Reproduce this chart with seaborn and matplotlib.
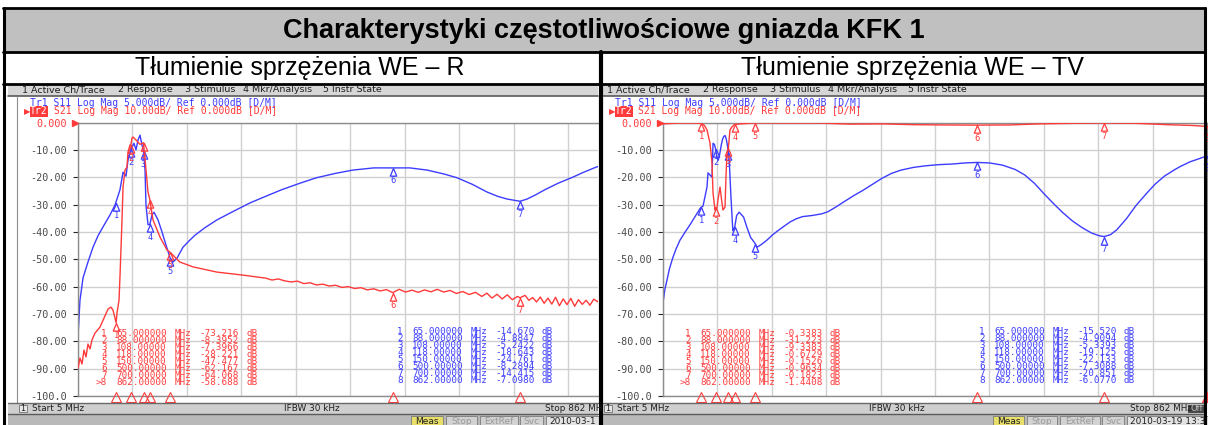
import matplotlib
matplotlib.use("Agg")
import matplotlib.pyplot as plt
import matplotlib.ticker as mticker
from matplotlib.patches import Rectangle
from matplotlib.lines import Line2D
from matplotlib.path import Path
import numpy as np
import pandas as pd
import seaborn as sns

# ---- values (MHz, dB) ----
# WE - R : S11 (blue, 5 dB/div), S21 (red, 10 dB/div)
r_s11_f = [5, 6.6, 8.1, 12.9, 20.7, 28.6, 36.5, 44.3, 55.3, 63.2,
           71, 75.8, 80.5, 83.6, 88.3, 93, 96.2, 99.4, 102.5, 105.6,
           108, 110.4, 111.9, 115.1, 118, 121.4, 124.5, 130.8, 137.1, 143.4,
           150, 154.4, 160.7, 170.1, 180, 189, 205, 223.6, 250, 275.5,
           300, 325, 354, 380, 410, 437, 470, 500, 527, 554,
           580, 601, 625, 648, 665, 680, 700, 711, 725, 739,
           760, 783, 800, 821, 840, 862]
r_s11_db = [-39.0, -35.7, -32.5, -28.4, -25.5, -22.8, -20.7, -19.1, -16.9, -15.1,
            -12.3, -9.1, -9.8, -6.9, -4.9, -3.8, -5.0, -3.2, -2.3, -4.1,
            -5.2, -8.7, -15.1, -18.7, -18.6, -16.9, -16.4, -17.8, -20.0, -22.4,
            -24.8, -25.5, -24.8, -22.8, -21.6, -20.6, -19.2, -17.8, -16.2, -14.7,
            -13.5, -12.3, -11.1, -10.1, -9.3, -8.7, -8.3, -8.3, -8.3, -8.7,
            -9.4, -10.1, -11.3, -12.7, -13.5, -14.0, -14.4, -14.0, -13.2, -12.3,
            -11.1, -10.0, -9.1, -8.1, -7.6, -7.1]

r_s21_f = [5, 8.1, 11.3, 14.4, 17.6, 20.7, 23.9, 27, 31.7, 39.6,
           45.9, 52.2, 56.9, 60, 65, 66.3, 69.5, 71, 74.2, 75.8,
           78.9, 82, 83.6, 86.8, 88, 89.9, 91.5, 96.2, 102.5, 108,
           112, 115, 118, 122.9, 134, 145, 150, 165, 186, 223.6,
           264.5, 300,
           310, 320, 330, 340, 350, 360, 370, 380, 390, 400,
           410, 420, 430, 440, 450, 460, 470, 480, 490, 500,
           510, 520, 530, 540, 550, 560, 570, 580, 590, 600,
           610, 620, 630, 640, 648, 656, 664, 672, 680, 688,
           696, 700, 708, 714, 720, 726, 732, 738, 744, 750,
           756, 762, 768, 774, 780, 786, 792, 798, 804, 810,
           816, 822, 830, 840, 850, 862]
r_s21_db = [-89.9, -86.1, -88.3, -83.2, -85.7, -81.0, -82.8, -79.5, -77.0, -74.8,
            -71.5, -68.2, -67.5, -68.6, -73.2, -69.7, -64.9, -56.5, -35.6, -23.6,
            -17.4, -16.3, -10.8, -8.2, -8.4, -5.7, -5.3, -6.4, -8.0, -7.4,
            -17.4, -25.4, -28.2, -35.6, -41.9, -46.6, -47.5, -51.0, -52.8, -54.7,
            -55.8, -56.9,
            -57.6, -57.2, -57.9, -58.3, -58.0, -58.9, -58.6, -59.4, -59.1, -59.8,
            -59.5, -60.3, -60.0, -60.7, -60.4, -61.2, -60.8, -61.6, -61.1, -62.2,
            -61.0, -62.0, -61.3, -62.1, -61.2, -61.9, -61.0, -62.0, -61.4, -62.5,
            -61.8, -62.9, -62.1, -63.6, -62.4, -64.2, -62.8, -64.5, -63.0, -64.8,
            -63.6, -64.1, -63.2, -65.0, -64.0, -65.6, -63.8, -66.1, -64.2, -66.4,
            -63.9, -67.0, -64.5, -66.6, -64.3, -67.2, -64.8, -66.5, -65.0, -66.8,
            -64.6, -65.5, -63.5, -61.0, -59.5, -58.7]

# WE - TV
tv_s11_f = [5, 8, 11.3, 15, 20.8, 26, 31.8, 40, 47.5, 55,
            63, 65, 68, 74.3, 75.9, 79, 82.2, 83.8, 86, 88,
            90, 92, 94, 97, 99, 101, 103, 105, 108, 110,
            112, 115, 118, 121, 125, 132, 137, 143, 150, 153,
            160, 168.8, 177, 184.6, 194, 205, 215, 225, 240, 255,
            265, 278, 290, 305, 320, 335, 350, 365, 380, 400,
            420, 440, 460, 480, 500, 520, 540, 560, 575, 590,
            605, 620, 635, 650, 665, 680, 692, 700, 710, 720,
            735, 750, 765, 772, 780, 795, 810, 819, 835, 850,
            862]
tv_s11_db = [-33.0, -30.5, -28.8, -26.8, -24.6, -23.0, -21.5, -20.0, -18.7, -17.3,
             -15.8, -15.5, -15.3, -11.8, -9.2, -9.6, -10.0, -3.8, -4.0, -4.9,
             -6.5, -6.9, -6.0, -4.0, -3.0, -2.5, -2.4, -3.2, -5.3, -8.5,
             -13.5, -19.8, -19.1, -17.0, -16.4, -17.3, -19.1, -21.0, -22.1, -22.8,
             -22.3, -21.5, -20.6, -19.9, -19.1, -18.2, -17.6, -17.2, -17.0, -16.7,
             -16.3, -15.4, -14.5, -13.4, -12.4, -11.3, -10.2, -9.3, -8.7, -8.2,
             -7.9, -7.7, -7.6, -7.4, -7.3, -7.4, -7.8, -8.6, -9.6, -11.1,
             -13.0, -14.8, -16.5, -18.0, -19.2, -20.2, -20.7, -20.85, -20.5, -19.6,
             -17.6, -15.2, -13.2, -12.3, -11.3, -9.8, -8.7, -8.1, -7.2, -6.6,
             -6.1]

tv_s21_f = [5, 31.8, 55.4, 65, 70, 74.3, 79, 82.2, 83.8, 86.9,
            88, 90, 91.6, 94.8, 97.9, 99.5, 102.7, 104.2, 105.8, 108,
            110.5, 113.7, 118, 150, 200, 250, 300, 350, 400, 450,
            500, 550, 600, 650, 700, 750, 800, 840, 862]
tv_s21_db = [-0.5, -0.2, -0.2, -0.34, -1.0, -2.7, -7.5, -14.8, -25.8, -32.0,
             -31.2, -31.3, -28.3, -23.6, -29.4, -32.0, -30.9, -19.9, -11.2, -9.3,
             -2.7, -1.6, -0.67, -0.15, -0.2, -0.2, -0.6, -0.5, -0.8, -0.9,
             -0.96, -0.9, -0.5, -0.3, -0.18, -0.3, -0.8, -1.1, -1.44]

# marker readouts
marker_f = [65, 88, 108, 118, 150, 500, 700, 862]
r_s21_mk = [-73.216, -8.3952, -7.3966, -28.221, -47.477, -62.167, -64.068, -58.688]
r_s11_mk = [-14.670, -4.8847, -5.2422, -18.643, -24.761, -8.2894, -14.415, -7.0980]
tv_s21_mk = [-0.3383, -31.223, -9.3383, -0.6729, -0.1526, -0.9634, -0.1823, -1.4408]
tv_s11_mk = [-15.520, -4.9094, -5.3393, -19.125, -22.133, -7.3088, -20.851, -6.0770]

title = "Charakterystyki częstotliwościowe gniazda KFK 1"
subtitles = ["Tłumienie sprzężenia WE – R", "Tłumienie sprzężenia WE – TV"]
menu_items = ["1 Active Ch/Trace", "2 Response", "3 Stimulus", "4 Mkr/Analysis", "5 Instr State"]

# ---- style ----
W, H = 1208, 425
RED = "#ff3a3a"
BLUE = "#3c3cff"
GRID = "#d0d0d0"
MONO = "DejaVu Sans Mono"

sns.set_style("white")
plt.rcParams["font.family"] = ["DejaVu Sans"]

fig = plt.figure(figsize=(W / 100, H / 100), dpi=100)
fig.patch.set_facecolor("white")


def rect(x0, y0, x1, y1, **kw):
    fig.add_artist(Rectangle((x0 / W, 1 - y1 / H), (x1 - x0) / W, (y1 - y0) / H,
                             transform=fig.transFigure, **kw))


def line(xs, ys, **kw):
    fig.add_artist(Line2D([x / W for x in xs], [1 - y / H for y in ys],
                          transform=fig.transFigure, **kw))


def txt(x, y, s, **kw):
    kw.setdefault("va", "center")
    fig.text(x / W, 1 - y / H, s, **kw)


def fmt_db(v):
    return f"{v:.3f}" if abs(v) >= 10 else f"{v:.4f}"


def fmt_f(f):
    return f"{f:.6f}" if f < 100 else f"{f:.5f}"


# marker: open triangle with its tip on the data point
TRI = Path([(0, 0), (-0.42, -1), (0.42, -1), (0, 0)],
           [Path.MOVETO, Path.LINETO, Path.LINETO, Path.CLOSEPOLY])


def draw_markers(ax, f, db, color, xmax):
    pts = [(x, y) for x, y in zip(f, db) if x <= xmax]
    ax.plot([p[0] for p in pts], [p[1] for p in pts], ls="none", marker=TRI, ms=11,
            mfc="none", mec=color, mew=0.9, zorder=6, clip_on=False)
    for i, (x, y) in enumerate(pts):
        ax.annotate(str(i + 1), (x, y), xytext=(0, -6.2), textcoords="offset points",
                    ha="center", va="top", color=color, fontsize=6.3, family=MONO)


def readout(x_num, y0, nums, vals, color):
    # columns: number | frequency | MHz | value | dB
    for i in range(8):
        y = y0 + i * 7.14
        kw = dict(family=MONO, fontsize=6.7, color=color)
        txt(x_num, y, nums[i], ha="right", **kw)
        txt(x_num + 9, y, fmt_f(marker_f[i]), **kw)
        txt(x_num + 68, y, "MHz", **kw)
        txt(x_num + 92, y, fmt_db(vals[i]), **kw)
        txt(x_num + 139, y, "dB", **kw)


def draw_panel(dx, px0, px1, ax_x0, ax_x1, xmax, s11_f, s11_db, s21_f, s21_db,
               s11_mk, s21_mk, tables, bottom_boxes, stop_txt, date_txt, show_off):
    # menu bar
    rect(px0, 84, px1, 96, facecolor="#d6d6d6", edgecolor="none")
    line([px0, px1], [96, 96], color="#5a5a5a", lw=1.2)
    for x, s in zip([22, 118, 185, 243, 323], menu_items):
        txt(x + dx, 90, s, fontsize=6.8, color="#1e1e1e")
    line([17 + dx, 17 + dx], [97, 403], color="#8c8c8c", lw=0.8)

    # trace headers
    txt(30 + dx, 103.5, "Tr1 S11 Log Mag 5.000dB/ Ref 0.000dB [D/M]",
        family=MONO, fontsize=7, color=BLUE)
    txt(24 + dx, 111.5, "\u25b6", fontsize=6, color=RED)
    txt(30 + dx, 111.5, "Tr2", family=MONO, fontsize=7, color="white",
        bbox=dict(boxstyle="square,pad=0.05", fc=RED, ec="none"))
    txt(53.5 + dx, 111.5, "S21 Log Mag 10.00dB/ Ref 0.000dB [D/M]",
        family=MONO, fontsize=7, color=RED)

    # plot area: S11 on 5 dB/div, S21 on 10 dB/div, both referenced to the top line
    ax = fig.add_axes([ax_x0 / W, 1 - 396 / H, (ax_x1 - ax_x0) / W, (396 - 122.5) / H])
    ax.set_xlim(5, xmax)
    ax.set_ylim(-50, 0)
    ax.xaxis.set_major_locator(mticker.FixedLocator(np.linspace(5, 862, 11)))
    ax.yaxis.set_major_locator(mticker.MultipleLocator(5))
    ax.grid(True, color=GRID, lw=1)
    ax.tick_params(left=False, bottom=False, labelleft=False, labelbottom=False)
    for side, sp in ax.spines.items():
        sp.set_color("#8c8c8c")
        sp.set_linewidth(1)
    if xmax < 862:
        ax.spines["right"].set_visible(False)

    d11 = pd.DataFrame({"f": s11_f, "db": s11_db})
    sns.lineplot(data=d11, x="f", y="db", ax=ax, color=BLUE, lw=1.0,
                 sort=False, estimator=None)
    draw_markers(ax, marker_f, s11_mk, BLUE, xmax)
    ax.set(xlabel="", ylabel="")

    ax2 = ax.twinx()
    ax2.set_ylim(-100, 0)
    ax2.set_xlim(5, xmax)
    ax2.yaxis.tick_left()
    ax2.set_yticks(range(-100, 1, 10))
    ax2.set_yticklabels(["-100.0"] + [f"{v:.2f}" for v in range(-90, 0, 10)] + ["0.000"],
                        family=MONO, fontsize=7.3, color="#4a4a4a")
    ax2.get_yticklabels()[-1].set_color(RED)
    ax2.tick_params(axis="y", length=0, pad=8)
    ax2.tick_params(axis="x", bottom=False, labelbottom=False)
    for sp in ax2.spines.values():
        sp.set_visible(False)
    d21 = pd.DataFrame({"f": s21_f, "db": s21_db})
    sns.lineplot(data=d21, x="f", y="db", ax=ax2, color=RED, lw=1.0,
                 sort=False, estimator=None)
    draw_markers(ax2, marker_f, s21_mk, RED, xmax)
    ax2.set(xlabel="", ylabel="")
    ax2.plot([-3.5 / (ax_x1 - ax_x0)], [1], marker=">", ms=5, color=RED,
             transform=ax2.transAxes, clip_on=False)

    # active-trace marker flags under the grid
    for i, f in enumerate(marker_f):
        if f <= xmax:
            ax2.plot([f], [-100.3], marker="^", ms=6.5, mew=0.8, mec=RED,
                     mfc=RED if i == 7 else "none", clip_on=False, ls="none")

    # readout tables
    red_nums = [str(i + 1) for i in range(7)] + [">8"]
    blue_nums = [str(i + 1) for i in range(8)]
    readout(tables[0], 333, red_nums, s21_mk, RED)
    readout(tables[1], 331, blue_nums, s11_mk, BLUE)

    # status bars
    rect(px0, 403, px1, 413.5, facecolor="#cfcfcf", edgecolor="none")
    line([px0, px1], [403, 403], color="#6a6a6a", lw=1)
    rect(19 + dx, 404.5, 27 + dx, 412, facecolor="#e6e6e6", edgecolor="#707070", lw=0.6)
    txt(23 + dx, 408.5, "1", fontsize=5.8, ha="center", color="#202020")
    txt(32 + dx, 408.5, "Start 5 MHz", fontsize=6.4, color="#202020")
    txt(312 + dx, 408.5, "IFBW 30 kHz", fontsize=6.4, ha="center", color="#202020")
    txt(545 + dx, 408.5, stop_txt, fontsize=6.4, color="#202020")
    if show_off:
        rect(1188, 404.5, 1206, 412.5, facecolor="#4a4a4a", edgecolor="none")
        txt(1197, 408.5, "Off", fontsize=6, ha="center", color="#bdbdbd")

    rect(px0, 413.5, px1, 425, facecolor="#b9b9b9", edgecolor="none")
    line([px0, px1], [413.5, 413.5], color="#5a5a5a", lw=1)
    labels = ["Meas", "Stop", "ExtRef", "Svc", date_txt]
    colors = ["#202020", "#9a9a9a", "#9a9a9a", "#9a9a9a", "#202020"]
    fills = ["#e8df6a", "#d2d2d2", "#d2d2d2", "#d2d2d2", "#e2e2e2"]
    for (a, b), s, c, fc in zip(bottom_boxes, labels, colors, fills):
        rect(a, 415.5, b, 426, facecolor=fc, edgecolor="#7a7a7a", lw=0.6)
        txt((a + b) / 2 if s != date_txt else a + 3, 421, s, fontsize=6.5, color=c,
            ha="center" if s != date_txt else "left")


draw_panel(0, 8, 598, 78, 598, 822.7, r_s11_f, r_s11_db, r_s21_f, r_s21_db,
           r_s11_mk, r_s21_mk, (107, 403),
           [(411, 443), (446, 477), (480, 518), (520, 543), (546, 604)],
           "Stop 862 MH", "2010-03-1", False)
draw_panel(585, 603, 1205, 663, 1207, 862, tv_s11_f, tv_s11_db, tv_s21_f, tv_s21_db,
           tv_s11_mk, tv_s21_mk, (691, 985),
           [(993, 1024), (1027, 1057), (1060, 1100), (1102, 1124), (1127, 1210)],
           "Stop 862 MHz", "2010-03-19 13:3", True)

# ---- surrounding table ----
rect(3, 8, 1205, 52, facecolor="#c0c0c0", edgecolor="none")
rect(3, 52, 1205, 83, facecolor="white", edgecolor="none")
txt(604, 30.5, title, fontsize=19.5, fontweight="bold", ha="center",
    family=["Liberation Sans", "DejaVu Sans"], color="black")
for cx, s in zip([300, 912], subtitles):
    txt(cx, 68, s, fontsize=18, ha="center", family=["Liberation Sans", "DejaVu Sans"],
        color="black")
for y in (8, 52, 83.5):
    line([3, 1205], [y, y], color="black", lw=2)
line([4, 4], [8, 425], color="black", lw=2.2)
line([1205, 1205], [8, 425], color="black", lw=2.2)
line([600.5, 600.5], [52, 425], color="black", lw=3)

fig.savefig("out.png", dpi=100, facecolor="white")
